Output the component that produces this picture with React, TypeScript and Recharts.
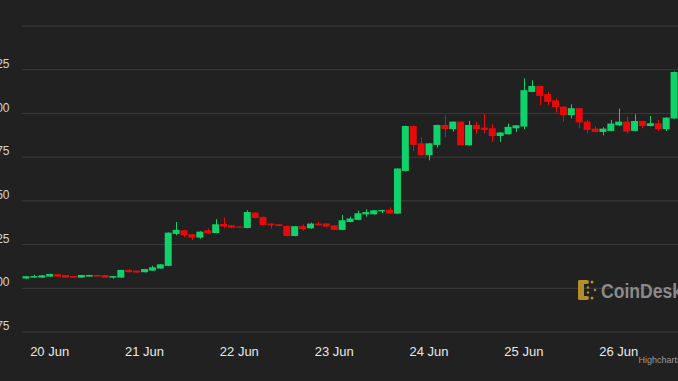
import { ComposedChart, Bar, XAxis, YAxis, CartesianGrid } from "recharts"

// 2-hour candles, first one at 19 Jun 18:00
const startHour = -6
const stepHours = 2

const opens = [
  1.056, 1.061, 1.061, 1.067, 1.080, 1.076, 1.070, 1.061, 1.067, 1.076, 1.076, 1.061,
  1.061, 1.105, 1.101, 1.092, 1.101, 1.113, 1.128, 1.311, 1.332, 1.309, 1.290, 1.332,
  1.316, 1.368, 1.360, 1.353, 1.345, 1.433, 1.408, 1.370, 1.366, 1.356, 1.299, 1.356,
  1.343, 1.370, 1.370, 1.360, 1.334, 1.379, 1.391, 1.423, 1.423, 1.440, 1.449, 1.427,
  1.671, 1.928, 1.829, 1.761, 1.820, 1.934, 1.910, 1.953, 1.818, 1.934, 1.919, 1.915,
  1.871, 1.881, 1.915, 1.925, 2.123, 2.157, 2.110, 2.075, 2.039, 1.990, 2.030, 1.953,
  1.913, 1.894, 1.900, 1.932, 1.953, 1.900, 1.957, 1.928, 1.944, 1.910, 1.971,
]
const highs = [
  1.070, 1.078, 1.076, 1.083, 1.082, 1.077, 1.071, 1.077, 1.077, 1.077, 1.077, 1.071,
  1.106, 1.110, 1.102, 1.111, 1.128, 1.138, 1.320, 1.379, 1.334, 1.311, 1.327, 1.342,
  1.395, 1.404, 1.363, 1.355, 1.446, 1.436, 1.410, 1.372, 1.367, 1.358, 1.356, 1.366,
  1.376, 1.379, 1.372, 1.362, 1.419, 1.410, 1.444, 1.452, 1.448, 1.449, 1.463, 1.687,
  1.930, 1.930, 1.862, 1.831, 1.936, 1.990, 1.955, 1.955, 1.957, 1.951, 1.999, 1.938,
  1.893, 1.942, 1.934, 2.201, 2.190, 2.159, 2.123, 2.085, 2.041, 2.052, 2.032, 1.963,
  1.925, 1.921, 1.963, 2.028, 1.982, 1.995, 1.959, 1.986, 1.963, 1.978, 2.240,
]
const lows = [
  1.054, 1.060, 1.060, 1.066, 1.066, 1.060, 1.060, 1.060, 1.066, 1.066, 1.060, 1.055,
  1.060, 1.090, 1.089, 1.090, 1.100, 1.112, 1.126, 1.303, 1.293, 1.276, 1.284, 1.310,
  1.314, 1.343, 1.345, 1.346, 1.343, 1.400, 1.360, 1.341, 1.354, 1.297, 1.297, 1.328,
  1.341, 1.359, 1.351, 1.332, 1.332, 1.377, 1.389, 1.410, 1.421, 1.430, 1.426, 1.425,
  1.668, 1.785, 1.759, 1.732, 1.805, 1.865, 1.896, 1.816, 1.816, 1.885, 1.885, 1.837,
  1.837, 1.879, 1.894, 1.910, 2.121, 2.048, 2.048, 2.005, 1.954, 1.971, 1.915, 1.885,
  1.892, 1.875, 1.898, 1.928, 1.885, 1.898, 1.915, 1.926, 1.900, 1.900, 1.969,
]
const closes = [
  1.069, 1.070, 1.074, 1.082, 1.067, 1.061, 1.061, 1.076, 1.076, 1.067, 1.061, 1.070,
  1.105, 1.092, 1.090, 1.110, 1.120, 1.137, 1.318, 1.334, 1.303, 1.290, 1.324, 1.313,
  1.366, 1.353, 1.347, 1.347, 1.436, 1.402, 1.362, 1.360, 1.356, 1.299, 1.355, 1.338,
  1.370, 1.360, 1.353, 1.334, 1.389, 1.399, 1.429, 1.436, 1.446, 1.447, 1.427, 1.685,
  1.928, 1.820, 1.761, 1.829, 1.934, 1.910, 1.953, 1.818, 1.934, 1.910, 1.906, 1.871,
  1.891, 1.923, 1.932, 2.133, 2.157, 2.100, 2.066, 2.037, 1.990, 2.030, 1.948, 1.906,
  1.894, 1.913, 1.942, 1.953, 1.896, 1.957, 1.928, 1.944, 1.910, 1.976, 2.237,
]

const yTicks = [0.75, 1, 1.25, 1.5, 1.75, 2, 2.25, 2.5]

const data = opens.map((open, i) => ({
  hour: startHour + i * stepHours,
  open,
  high: highs[i],
  low: lows[i],
  close: closes[i],
}))

const BG = "#212121"
const GRID = "#3c3c3c"
const GREEN = "#0fd26b"
const RED = "#e80a0a"
const FONT = "'Liberation Sans', Arial, Helvetica, sans-serif"

function Candle(props: any) {
  const { x, y, width, height, payload } = props
  const { open, close, high, low } = payload
  const top = Math.min(y, y + height)
  const h = Math.abs(height)
  const k = h / (high - low)
  const color = close >= open ? GREEN : RED
  const bodyTop = top + (high - Math.max(open, close)) * k
  const bodyH = Math.max(1, Math.abs(open - close) * k)
  const cx = Math.round(x + width / 2) + 0.5
  return (
    <g>
      <line x1={cx} x2={cx} y1={top} y2={top + h} stroke={color} strokeWidth={1} />
      <rect x={x} y={bodyTop} width={width} height={bodyH} fill={color} />
    </g>
  )
}

function YTick({ y, payload }: any) {
  if (payload.value >= 2.5) return <g />
  return (
    <text x={9.5} y={y - 6} dy="0.35em" textAnchor="end" fill="#d4d4d4" fontSize={12} fontFamily={FONT}>
      {payload.value.toFixed(2)}
    </text>
  )
}

function XTick({ x, payload }: any) {
  const h = payload.value as number
  if (((h % 24) + 24) % 24 !== 0) return <g />
  const day = 20 + Math.floor(h / 24)
  return (
    <text x={x} y={351.5} dy="0.35em" textAnchor="middle" fill="#e8e8e8" fontSize={13} fontFamily={FONT}>
      {`${day} Jun`}
    </text>
  )
}

export default function App() {
  return (
    <div style={{ position: "absolute", left: 0, top: 0, width: 678, height: 381, background: BG, overflow: "hidden" }}>
      <ComposedChart width={678} height={381} data={data} margin={{ top: 26, right: 0, bottom: 0, left: 0 }} barCategoryGap="6%">
        <CartesianGrid vertical={false} stroke={GRID} strokeWidth={1} />
        <XAxis dataKey="hour" interval={0} height={49} axisLine={false} tickLine={false} tick={<XTick />} />
        <YAxis type="number" domain={[0.75, 2.5]} ticks={yTicks} interval={0} allowDataOverflow width={22} axisLine={false} tickLine={false} tick={<YTick />} />
        <Bar dataKey={(d: any) => [d.low, d.high]} shape={<Candle />} isAnimationActive={false} />
      </ComposedChart>
      <svg width={678} height={381} style={{ position: "absolute", left: 0, top: 0, pointerEvents: "none" }}>
        {/* watermark */}
        <g fill="#b48d2c">
          <rect x={578} y={280} width={6} height={20} rx={2} />
          <rect x={578} y={280} width={11} height={4} rx={2} />
          <rect x={578} y={296} width={11} height={4} rx={2} />
          <circle cx={592} cy={282} r={1.5} />
          <circle cx={592} cy={298} r={1.5} />
          <circle cx={588} cy={287.5} r={1.2} />
          <circle cx={588} cy={292.5} r={1.2} />
          <circle cx={595} cy={290} r={1.2} />
        </g>
        <text x={601} y={298} fill="#8a8a8a" fontSize={20} fontWeight="bold" fontFamily={FONT} textLength={81} lengthAdjust="spacingAndGlyphs">CoinDesk</text>
        <text x={638.5} y={363} fill="#9a9a9a" fontSize={9} fontFamily={FONT}>Highcharts.com</text>
      </svg>
    </div>
  )
}
